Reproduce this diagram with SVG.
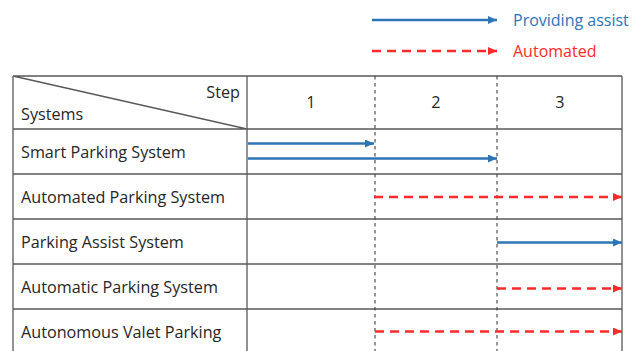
<svg xmlns="http://www.w3.org/2000/svg" width="640" height="351" viewBox="0 0 640 351">
<style>
.t{font-family:"Open Sans","Liberation Sans",sans-serif;font-size:16.2px;fill:#262626}
.grid{stroke:#595959;stroke-width:1.3;fill:none}
.vd{stroke:#404040;stroke-width:1.1;stroke-dasharray:3.5,3.5}
.blue{stroke:#2E75B6;stroke-width:2.5;fill:none}
.red{stroke:#FF2A2A;stroke-width:2.7;fill:none;stroke-dasharray:9,6}
</style>
<defs>
<marker id="ab" markerWidth="9" markerHeight="8" refX="9" refY="4" orient="auto" markerUnits="userSpaceOnUse"><path d="M0,0 L9,4 L0,8 Z" fill="#2E75B6"/></marker>
<marker id="ar" markerWidth="9" markerHeight="8" refX="9" refY="4" orient="auto" markerUnits="userSpaceOnUse"><path d="M0,0 L9,4 L0,8 Z" fill="#FF2A2A"/></marker>
</defs>
<rect width="640" height="351" fill="#fff"/>
<g id="legend">
<line class="blue" x1="372" y1="20" x2="497" y2="20" marker-end="url(#ab)"/>
<text x="513" y="26" class="t" style="fill:#2E75B6;font-size:16px">Providing assist</text>
<line class="red" x1="372" y1="51" x2="497" y2="51" marker-end="url(#ar)"/>
<text x="513" y="57" class="t" style="fill:#FF2A2A;font-size:16px">Automated</text>
</g>
<g id="table">
<path class="grid" d="M13,76 H622 M13,129 H622 M13,174 H622 M13,219 H622 M13,264 H622 M13,309 H622 M13,76 V351 M247,76 V351 M622,76 V351 M13,76 L247,129"/>
<line class="vd" x1="375" y1="76" x2="375" y2="351"/>
<line class="vd" x1="497" y1="76" x2="497" y2="351"/>
<text x="240" y="98" class="t" text-anchor="end">Step</text>
<text x="21" y="120" class="t">Systems</text>
<text x="311" y="108" class="t" text-anchor="middle">1</text>
<text x="436" y="108" class="t" text-anchor="middle">2</text>
<text x="560" y="108" class="t" text-anchor="middle">3</text>
</g>
<g id="row-smart"><text x="21" y="158" class="t">Smart Parking System</text></g>
<g id="row-automated"><text x="21" y="203" class="t">Automated Parking System</text></g>
<g id="row-assist"><text x="21" y="248" class="t">Parking Assist System</text></g>
<g id="row-automatic"><text x="21" y="293" class="t">Automatic Parking System</text></g>
<g id="row-valet"><text x="21" y="338" class="t">Autonomous Valet Parking</text></g>
<g id="connectors">
<line class="blue" x1="248" y1="143.5" x2="374" y2="143.5" marker-end="url(#ab)"/>
<line class="blue" x1="248" y1="158.5" x2="497" y2="158.5" marker-end="url(#ab)"/>
<line class="red" x1="374" y1="197" x2="622" y2="197" marker-end="url(#ar)"/>
<line class="blue" x1="497" y1="242.5" x2="622" y2="242.5" marker-end="url(#ab)"/>
<line class="red" x1="497" y1="288.5" x2="622" y2="288.5" marker-end="url(#ar)"/>
<line class="red" x1="375" y1="331.5" x2="622" y2="331.5" marker-end="url(#ar)"/>
</g>
</svg>
